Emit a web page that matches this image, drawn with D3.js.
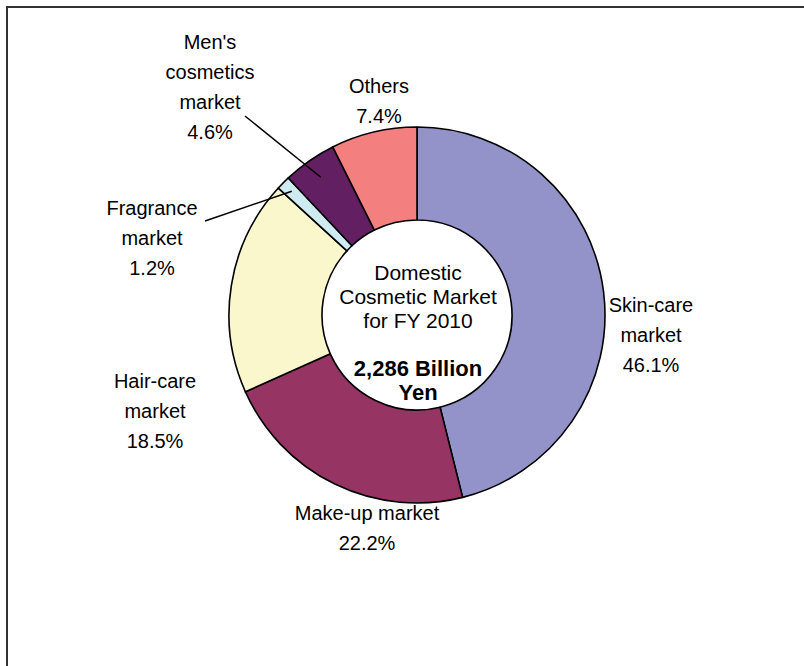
<!DOCTYPE html>
<html>
<head>
<meta charset="utf-8">
<script src="https://cdn.jsdelivr.net/npm/d3@7"></script>
<style>
  body { margin: 0; background: #fff; }
  text { font-family: "Liberation Sans", Arial, sans-serif; fill: #000; }
</style>
</head>
<body>
<div class="chartdiv"></div>
<script>
// market shares, FY 2010 (clockwise from 12 o'clock)
const segments = ['Skin-care market', 'Make-up market', 'Hair-care market', 'Fragrance market', "Men's cosmetics market", 'Others']
const shares = [46.1, 22.2, 18.5, 1.2, 4.6, 7.4]
const colors = ['#9393c9', '#963463', '#faf7cc', '#cdebf0', '#621f62', '#f47f7f']

// label lines as they are broken in the picture
const labelLines = [
    ['Skin-care', 'market', '46.1%'],
    ['Make-up market', '22.2%'],
    ['Hair-care', 'market', '18.5%'],
    ['Fragrance', 'market', '1.2%'],
    ["Men's", 'cosmetics', 'market', '4.6%'],
    ['Others', '7.4%']
]
const centerLines = ['Domestic', 'Cosmetic Market', 'for FY 2010']
const totalLines = ['2,286 Billion', 'Yen']

// layout
let w = 804, h = 666
let cx = 417, cy = 315
let rOuter = 188, rInner = 95
// label anchor (center of first line), relative to donut center
let labelPos = [[234, -10], [-50, 198], [-262, 66], [-265, -107], [-207, -273], [-38, -229]]
let lineGap = 30
// leader lines: label-side point, relative to donut center; null = no leader
let leaderStart = [null, null, null, [-212, -94], [-172, -199], null]
let leaderR = [0, 0, 0, 176, 168, 0]

let svg = d3.select('.chartdiv').append('svg')
    .attr('width', w)
    .attr('height', h)

// frame (only left and top edges are visible)
svg.append('path')
    .attr('d', `M7,${h} L7,7 L${w},7`)
    .attr('fill', 'none')
    .attr('stroke', '#333')
    .attr('stroke-width', 2)

let pie = d3.pie().sort(null).value(d => d)
let arcs = pie(shares)
let arc = d3.arc().innerRadius(rInner).outerRadius(rOuter)

let g = svg.append('g').attr('transform', `translate(${cx},${cy})`)

g.selectAll('.slice')
    .data(arcs)
    .enter()
    .append('path')
    .attr('class', 'slice')
    .attr('d', arc)
    .attr('fill', (d, i) => colors[i])
    .attr('stroke', '#000')
    .attr('stroke-width', 1.6)
    .attr('stroke-linejoin', 'round')

// leader lines
arcs.forEach((d, i) => {
    if (!leaderStart[i]) return
    let end = d3.arc().innerRadius(leaderR[i]).outerRadius(leaderR[i]).centroid(d)
    g.append('line')
        .attr('x1', leaderStart[i][0]).attr('y1', leaderStart[i][1])
        .attr('x2', end[0]).attr('y2', end[1])
        .attr('stroke', '#000')
        .attr('stroke-width', 1.5)
})

// segment labels
labelLines.forEach((lines, i) => {
    let t = g.append('text')
        .attr('text-anchor', 'middle')
        .style('font-size', '20px')
    lines.forEach((s, j) => {
        t.append('tspan')
            .attr('x', labelPos[i][0])
            .attr('y', labelPos[i][1] + j * lineGap)
            .attr('dy', '0.35em')
            .text(s)
    })
})

// center text
let ct = g.append('text')
    .attr('text-anchor', 'middle')
    .style('font-size', '21px')
centerLines.forEach((s, j) => {
    ct.append('tspan')
        .attr('x', 1)
        .attr('y', -42 + j * 24)
        .attr('dy', '0.35em')
        .text(s)
})
let tt = g.append('text')
    .attr('text-anchor', 'middle')
    .style('font-size', '22px')
    .style('font-weight', 'bold')
totalLines.forEach((s, j) => {
    tt.append('tspan')
        .attr('x', 1)
        .attr('y', 53 + j * 24)
        .attr('dy', '0.35em')
        .text(s)
})
</script>
</body>
</html>
